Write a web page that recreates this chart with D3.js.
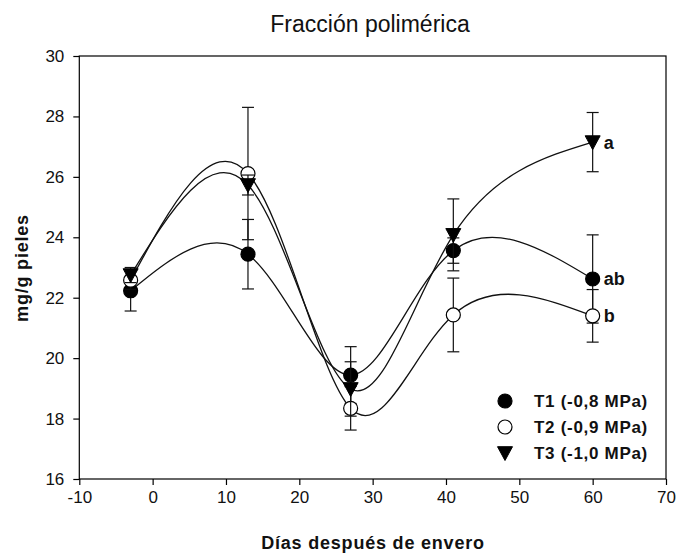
<!DOCTYPE html>
<html>
<head>
<meta charset="utf-8">
<script src="https://cdn.jsdelivr.net/npm/d3@7"></script>
<style>
  html, body { margin: 0; padding: 0; background: #fff; }
  svg { display: block; font-family: Arial, "Liberation Sans", sans-serif; }
</style>
</head>
<body>
<svg id="chart" width="676" height="555"></svg>
<script>
// Days after veraison
const days = [-3, 13, 27, 41, 60];

// Polymeric fraction (mg/g skins) per treatment, with error bars
const t1Values = [22.23, 23.44, 19.44, 23.56, 22.62];
const t1Errors = [0.67, 1.15, 0.94, 0.42, 1.46];
const t2Values = [22.58, 26.11, 18.34, 21.43, 21.40];
const t2Errors = [0.30, 2.19, 0.72, 1.22, 0.87];
const t3Values = [22.75, 25.73, 18.98, 24.08, 27.15];
const t3Errors = [0.25, 0.33, 0.90, 1.19, 0.98];

const seriesNames = ["T1 (-0,8 MPa)", "T2 (-0,9 MPa)", "T3 (-1,0 MPa)"];
const seriesLetters = ["ab", "b", "a"];

const xTicks = [-10, 0, 10, 20, 30, 40, 50, 60, 70];
const yTicks = [16, 18, 20, 22, 24, 26, 28, 30];

const series = [
  { name: seriesNames[0], values: t1Values, errors: t1Errors, symbol: "circle", fill: "#000", letter: seriesLetters[0] },
  { name: seriesNames[1], values: t2Values, errors: t2Errors, symbol: "circle", fill: "#fff", letter: seriesLetters[1] },
  { name: seriesNames[2], values: t3Values, errors: t3Errors, symbol: "triangle", fill: "#000", letter: seriesLetters[2] }
];

const svg = d3.select("#chart");
const plotLeft = 79.3, plotRight = 666, plotTop = 56, plotBottom = 479;

const x = d3.scaleLinear().domain([-10, 70]).range([plotLeft, plotRight]);
const y = d3.scaleLinear().domain([16, 30]).range([plotBottom, plotTop]);

// Frame
svg.append("rect")
  .attr("x", plotLeft).attr("y", plotTop)
  .attr("width", plotRight - plotLeft).attr("height", plotBottom - plotTop)
  .attr("fill", "none").attr("stroke", "#000").attr("stroke-width", 1.2);

// Axes (plain hyphen for negative numbers)
const fmt = d => String(d);
const xAxis = svg.append("g")
  .attr("transform", `translate(0,${plotBottom})`)
  .call(d3.axisBottom(x).tickValues(xTicks).tickSize(6).tickPadding(6).tickFormat(fmt));
const yAxis = svg.append("g")
  .attr("transform", `translate(${plotLeft},0)`)
  .call(d3.axisLeft(y).tickValues(yTicks).tickSize(6).tickPadding(9).tickFormat(fmt));
[xAxis, yAxis].forEach(g => {
  g.select(".domain").remove();
  g.selectAll("line").attr("stroke", "#000").attr("stroke-width", 1.2);
  g.selectAll("text").attr("fill", "#111").style("font-size", "17px")
    .style("font-family", "Arial, 'Liberation Sans', sans-serif");
});

// Smooth spline curves through the means
const line = d3.line().x(d => x(d[0])).y(d => y(d[1])).curve(d3.curveNatural);
series.forEach(s => {
  svg.append("path").datum(days.map((dv, i) => [dv, s.values[i]]))
    .attr("d", line).attr("fill", "none")
    .attr("stroke", "#111").attr("stroke-width", 1.3);
});

const triangle = (cx, cy, w) =>
  `M${cx - w / 2},${cy - w * 0.42}L${cx + w / 2},${cy - w * 0.42}L${cx},${cy + w * 0.5}Z`;

function drawMarker(g, s, cx, cy) {
  if (s.symbol === "circle") {
    g.append("circle").attr("cx", cx).attr("cy", cy).attr("r", 7)
      .attr("fill", s.fill).attr("stroke", "#000").attr("stroke-width", 1.2);
  } else {
    g.append("path").attr("d", triangle(cx, cy, 15)).attr("fill", s.fill)
      .attr("stroke", "#000").attr("stroke-width", 1);
  }
}

// Error bars and markers
series.forEach(s => {
  const g = svg.append("g");
  days.forEach((dv, i) => {
    const cx = x(dv);
    const y0 = y(s.values[i] - s.errors[i]), y1 = y(s.values[i] + s.errors[i]);
    g.append("line").attr("x1", cx).attr("x2", cx).attr("y1", y0).attr("y2", y1)
      .attr("stroke", "#111").attr("stroke-width", 1.2);
    [y0, y1].forEach(yy => g.append("line")
      .attr("x1", cx - 6).attr("x2", cx + 6).attr("y1", yy).attr("y2", yy)
      .attr("stroke", "#111").attr("stroke-width", 1.2));
  });
  days.forEach((dv, i) => drawMarker(g, s, x(dv), y(s.values[i])));
  // significance letter at the last sampling date
  const last = days.length - 1;
  svg.append("text")
    .attr("x", x(days[last]) + 11).attr("y", y(s.values[last]))
    .attr("dy", "0.36em")
    .style("font-size", "18px").style("font-weight", "bold")
    .attr("fill", "#111").text(s.letter);
});

// Legend
const legend = svg.append("g");
series.forEach((s, i) => {
  const ly = 401 + i * 26;
  drawMarker(legend, s, 505, ly);
  legend.append("text").attr("x", 534).attr("y", ly).attr("dy", "0.36em")
    .style("font-size", "17px").style("font-weight", "bold")
    .style("letter-spacing", "0.7px")
    .attr("fill", "#111").text(s.name);
});

// Title and axis titles
svg.append("text").attr("x", 370).attr("y", 32).attr("text-anchor", "middle")
  .style("font-size", "23px").attr("fill", "#111").text("Fracción polimérica");

svg.append("text").attr("x", 373).attr("y", 549).attr("text-anchor", "middle")
  .style("font-size", "18px").style("font-weight", "bold").style("letter-spacing", "0.8px")
  .attr("fill", "#111").text("Días después de envero");

svg.append("text").attr("transform", "translate(28,268) rotate(-90)")
  .attr("text-anchor", "middle")
  .style("font-size", "18px").style("font-weight", "bold").style("letter-spacing", "0.8px")
  .attr("fill", "#111").text("mg/g pieles");
</script>
</body>
</html>
